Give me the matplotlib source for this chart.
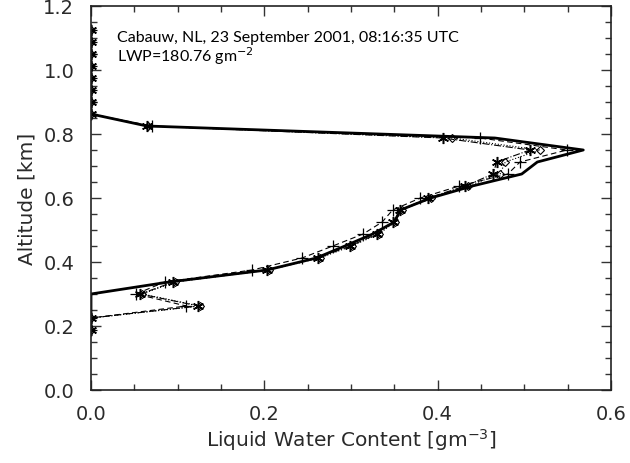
import numpy as np
import matplotlib
matplotlib.use("Agg")
import matplotlib.pyplot as plt

# --- Range gates (km) ---
altitude = [0.1875, 0.225, 0.2625, 0.3, 0.3375, 0.375, 0.4125, 0.45, 0.4875,
            0.525, 0.5625, 0.6, 0.6375, 0.675, 0.7125, 0.75, 0.7875, 0.825,
            0.8625, 0.9, 0.9375, 0.975, 1.0125, 1.05, 1.0875, 1.125]

# --- LWC profiles (g m^-3) ---
lwc_ref = [0.0, 0.0, 0.0, 0.0, 0.09, 0.203, 0.26, 0.293, 0.325,
           0.35, 0.357, 0.392, 0.44, 0.497, 0.515, 0.568, 0.466, 0.0646,
           0.0, 0.0, 0.0, 0.0, 0.0, 0.0, 0.0, 0.0]
lwc_plus = [0.0, 0.0, 0.11, 0.052, 0.085, 0.186, 0.2435, 0.279, 0.314,
            0.336, 0.348, 0.38, 0.425, 0.481, 0.495, 0.549, 0.449, 0.07,
            0.0, 0.0, 0.0, 0.0, 0.0, 0.0, 0.0, 0.0]
lwc_ast = [0.0, 0.0, 0.124, 0.057, 0.095, 0.203, 0.262, 0.299, 0.33,
           0.349, 0.357, 0.389, 0.4315, 0.464, 0.468, 0.5065, 0.406, 0.065,
           0.0, 0.0, 0.0, 0.0, 0.0, 0.0, 0.0, 0.0]
lwc_dia = [0.0, 0.0, 0.126, 0.059, 0.097, 0.205, 0.264, 0.301, 0.332,
           0.351, 0.359, 0.392, 0.435, 0.472, 0.478, 0.518, 0.417, 0.066,
           0.0, 0.0, 0.0, 0.0, 0.0, 0.0, 0.0, 0.0]

site_text = "Cabauw, NL, 23 September 2001, 08:16:35 UTC"
lwp_text = r"LWP=180.76 gm$^{-2}$"

fig = plt.figure(figsize=(6.3, 4.64), dpi=100)
ax = fig.add_axes([91 / 630, 1 - 391 / 464, 520 / 630, 384 / 464])

asterisk = (6, 2, 0)
ax.plot(lwc_dia, altitude, color='black', lw=0.8, linestyle=':',
        marker='D', ms=4.5, mfc='none', mew=0.8)
ax.plot(lwc_ast, altitude, color='black', lw=0.8, linestyle='-.',
        marker=asterisk, ms=8, mew=1.1)
ax.plot(lwc_plus, altitude, color='black', lw=0.8, linestyle='--',
        dashes=(5, 3), marker='+', ms=8, mew=0.9)
ax.plot(lwc_ref, altitude, color='black', lw=2.0)

ax.set_xlim(0, 0.6)
ax.set_ylim(0, 1.2)
ax.set_xticks(np.arange(0, 0.61, 0.2))
ax.set_xticks(np.arange(0, 0.61, 0.05), minor=True)
ax.set_yticks(np.arange(0, 1.21, 0.2))
ax.set_yticks(np.arange(0, 1.21, 0.05), minor=True)
ax.xaxis.set_major_formatter(plt.FormatStrFormatter('%.1f'))
ax.yaxis.set_major_formatter(plt.FormatStrFormatter('%.1f'))

ax.tick_params(which='both', direction='in', top=True, right=True,
               color='#333333', width=1.0, labelsize=14, labelcolor='#2a2a2a')
ax.tick_params(which='major', length=7)
ax.tick_params(which='minor', length=4)
ax.tick_params(axis='x', pad=10)
ax.tick_params(axis='y', pad=12)
for s in ax.spines.values():
    s.set_linewidth(1.2)
    s.set_color('#222222')

ax.set_xlabel(r"Liquid Water Content [gm$^{-3}$]", fontsize=14.5,
              color='#2a2a2a', labelpad=2)
ax.set_ylabel("Altitude [km]", fontsize=14.5, color='#2a2a2a', labelpad=5)

ax.text(117 / 630, 1 - 42 / 464, site_text, transform=fig.transFigure,
        family='Lato', fontsize=11.5, va='baseline', ha='left')
ax.text(117 / 630, 1 - 62 / 464, lwp_text, transform=fig.transFigure,
        family='Lato', fontsize=11.5, va='baseline', ha='left')

fig.savefig("out.png", dpi=100)
